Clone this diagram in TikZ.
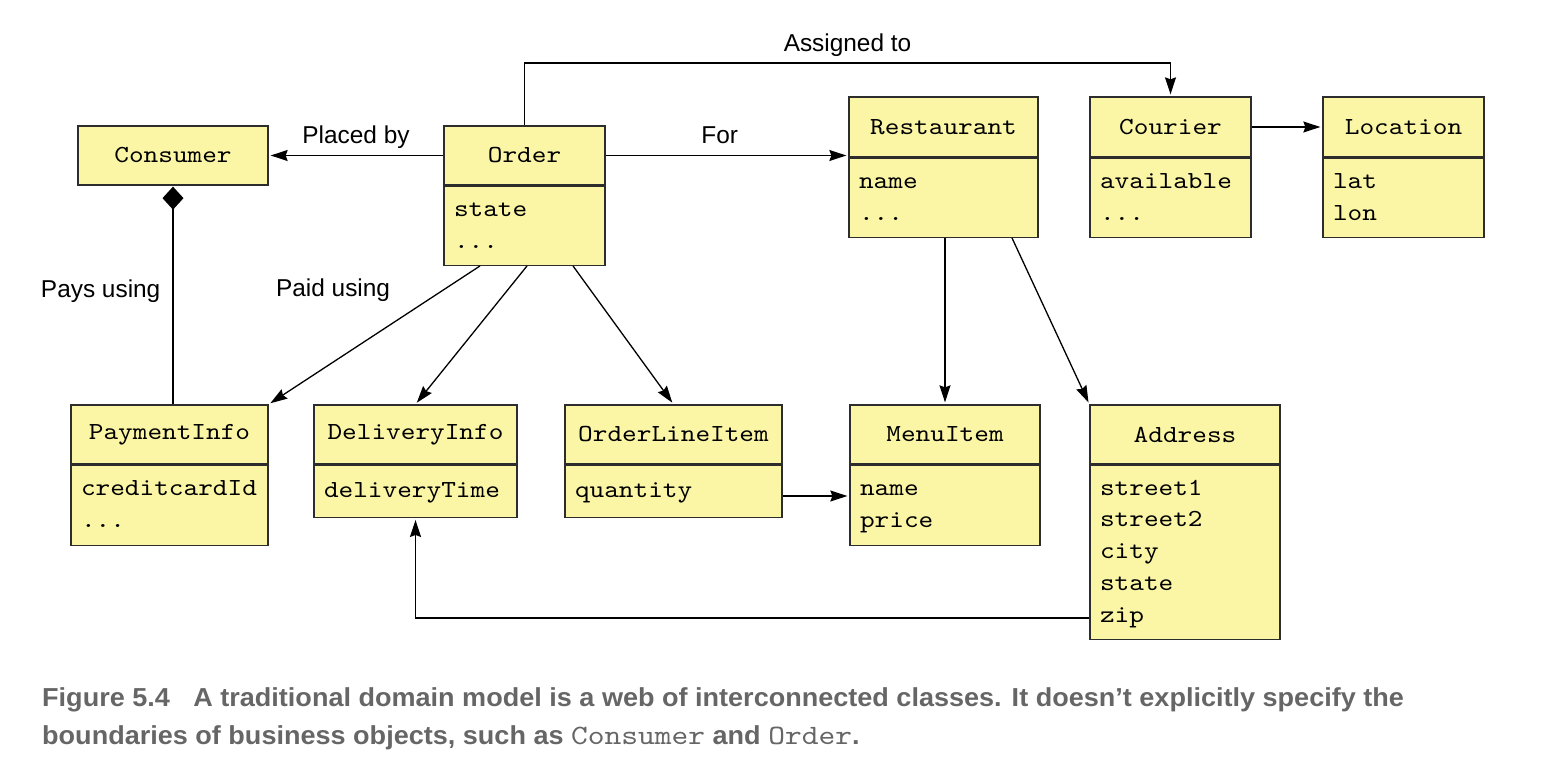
\documentclass[tikz,border=0pt]{standalone}
\usepackage{fontspec}
\setmainfont{Liberation Sans}
\setsansfont{Liberation Sans}
\setmonofont[FakeStretch=1.14]{lmmono10-regular.otf}
\newfontfamily\capfont[FakeStretch=1.04]{Liberation Sans}
\newfontfamily\capmono[FakeStretch=1.14]{lmmono10-regular.otf}
\usetikzlibrary{positioning,arrows.meta}

\definecolor{boxfill}{RGB}{251,245,166}
\definecolor{boxline}{RGB}{45,45,45}
\definecolor{capgray}{RGB}{102,102,102}

\newcommand\umlfont{\ttfamily\fontsize{24.5}{31.75}\selectfont}
\newcommand\lblfont{\sffamily\fontsize{24.4}{29}\selectfont}

\begin{document}
\begin{tikzpicture}
  [x=1pt,y=-1pt,
   klass/.style={draw=boxline,fill=boxfill,line width=1.3pt,font=\umlfont,
     inner sep=0pt,minimum height=59pt},
   attrs/.style={klass,align=left,inner xsep=10pt,anchor=north},
   lbl/.style={font=\lblfont,inner sep=2pt,text height=0.75em,text depth=0.25em},
   link/.style={draw=black,line width=1.3pt,
     -{Stealth[length=17pt,width=11pt,inset=2pt]},shorten >=2pt}]
  \useasboundingbox (0,0) rectangle (1558,778);

  % top row
  \node[klass,minimum width=190pt] (cons) at (173,155.5) {Consumer};
  \node[klass,minimum width=161pt] (order) at (524.5,155.5) {Order};
  \node[attrs,text width=141pt,minimum height=79pt,below=0pt of order] (order-a)
    {\strut state\\\strut ...};
  \node[klass,minimum width=189pt,minimum height=60pt] (rest) at (943.5,127) {Restaurant};
  \node[attrs,text width=169pt,minimum height=79pt,below=0pt of rest] (rest-a)
    {\strut name\\\strut ...};
  \node[klass,minimum width=161pt,minimum height=60pt] (cour) at (1170.5,127) {Courier};
  \node[attrs,text width=141pt,minimum height=79pt,below=0pt of cour] (cour-a)
    {\strut available\\\strut ...};
  \node[klass,minimum width=161pt,minimum height=60pt] (loc) at (1403.5,127) {Location};
  \node[attrs,text width=141pt,minimum height=79pt,below=0pt of loc] (loc-a)
    {\strut lat\\\strut lon};

  % bottom row
  \node[klass,minimum width=197pt] (pay) at (169.5,434.5) {PaymentInfo};
  \node[attrs,text width=177pt,minimum height=80pt,below=0pt of pay] (pay-a)
    {\strut creditcardId\\\strut ...};
  \node[klass,minimum width=203pt] (deliv) at (415.5,434.5) {DeliveryInfo};
  \node[attrs,text width=183pt,minimum height=52pt,below=0pt of deliv] (deliv-a)
    {\strut deliveryTime};
  \node[klass,minimum width=217pt] (oli) at (673.5,434.5) {OrderLineItem};
  \node[attrs,text width=197pt,minimum height=52pt,below=0pt of oli] (oli-a)
    {\strut quantity};
  \node[klass,minimum width=190pt] (menu) at (945,434.5) {MenuItem};
  \node[attrs,text width=170pt,minimum height=80pt,below=0pt of menu] (menu-a)
    {\strut name\\\strut price};
  \node[klass,minimum width=190pt] (addr) at (1185,434.5) {Address};
  \node[attrs,text width=170pt,minimum height=174pt,below=0pt of addr] (addr-a)
    {\strut street1\\\strut street2\\\strut city\\\strut state\\\strut zip};

  \coordinate (toprow) at (0,63);
  \coordinate (olirow) at (0,496);
  \coordinate (ziprow) at (0,618);

  % associations
  \path[every edge/.style={link}]
    (order) edge node[lbl,above=7pt] {Placed by} (cons)
    (cour) edge (loc)
    ([xshift=2.5pt]order-a.south) edge (deliv.north)
    ([xshift=48.5pt]order-a.south) edge (oli.north)
    ([xshift=68.5pt]rest-a.south) edge (addr.north west)
    (menu.north |- rest-a.south) edge (menu.north)
    (oli-a.east |- olirow) edge (menu-a.west |- olirow)
    ;
  \draw[link] (order.east) -- node[lbl,pos=0.47,above=7pt] {For} (order.east -| rest.west);
  \draw[link] ([xshift=-44.5pt]order-a.south) -- node[lbl,pos=0.2,left=45pt] {Paid using}
    (pay.north east);
  \draw[link] (order.north) -- (order.north |- toprow)
    -- node[lbl,above=6pt] {Assigned to} (cour.north |- toprow) -- (cour.north);
  \draw[link] (addr-a.west |- ziprow) -| (deliv-a.south);
  \draw[line width=1.3pt,{Diamond[length=23pt,width=21pt]}-,shorten <=1pt]
    (cons.south) -- node[lbl,left=10pt] {Pays using} (cons.south |- pay.north);

  % caption
  \node[anchor=base west,inner sep=0pt,text=capgray,font=\capfont\bfseries\fontsize{26}{30}\selectfont]
    (cap1) at (42,706)
    {Figure 5.4\hspace{0.9em}A traditional domain model is a web of interconnected classes. It doesn’t explicitly specify the};
  \node[anchor=base west,inner sep=0pt,text=capgray,font=\capfont\bfseries\fontsize{26}{30}\selectfont]
    (cap2) at (42,744)
    {boundaries of business objects, such as {\mdseries\capmono\fontsize{28}{30}\selectfont Consumer} and {\mdseries\capmono\fontsize{28}{30}\selectfont Order}.};
\end{tikzpicture}
\end{document}
